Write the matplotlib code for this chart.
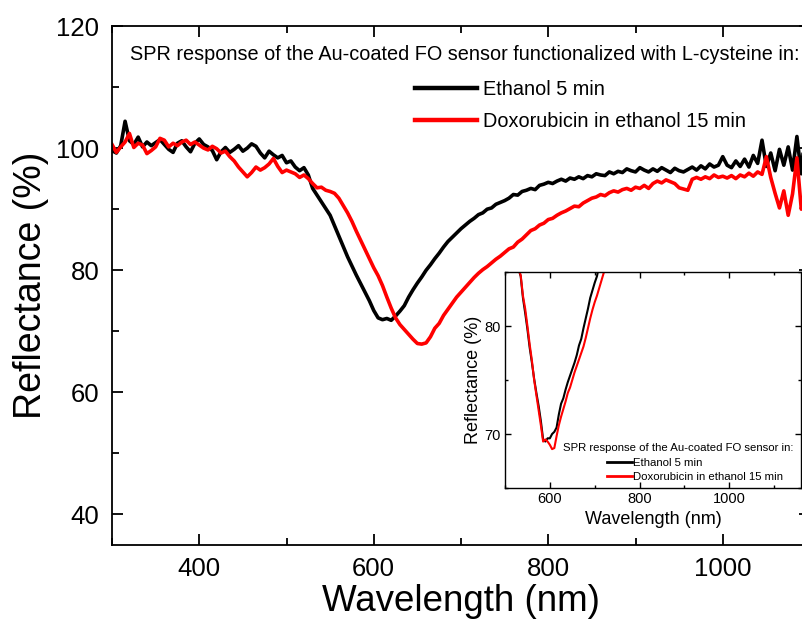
import numpy as np
import matplotlib
matplotlib.use("Agg")
import matplotlib.pyplot as plt
from matplotlib.ticker import MultipleLocator

plt.rcParams['font.family'] = ['Liberation Sans', 'DejaVu Sans']

# ---------------- data ----------------
wl_start, wl_step = 300, 5
ethanol_5min = [
    99.6, 99.2, 100.4, 104.4, 101.2, 100.6, 101.8, 100.2, 101.0, 100.4,
    100.9, 101.4, 100.6, 99.8, 99.3, 100.8, 101.2, 100.2, 99.4, 100.8,
    101.5, 100.6, 100.2, 99.6, 98.1, 99.4, 100.1, 99.3, 99.8, 100.4,
    99.5, 100.0, 100.7, 100.3, 99.2, 98.4, 99.5, 98.9, 98.4, 98.8,
    97.6, 97.9, 96.9, 96.3, 96.8, 95.6, 93.4, 92.3, 91.2, 90.1,
    89.0, 87.3, 85.6, 83.9, 82.2, 80.7, 79.2, 77.8, 76.4, 75.0,
    73.4, 72.2, 71.9, 72.1, 71.8, 72.5, 73.3, 74.2, 75.6, 76.8,
    77.9, 78.9, 80.0, 80.9, 81.9, 82.8, 83.8, 84.7, 85.4, 86.1,
    86.8, 87.4, 88.0, 88.5, 89.1, 89.4, 90.0, 90.2, 90.8, 91.1,
    91.4, 91.8, 92.4, 92.3, 92.9, 93.1, 93.4, 93.2, 93.9, 94.1,
    94.4, 94.2, 94.6, 94.9, 94.6, 95.1, 94.9, 95.3, 95.0, 95.5,
    95.3, 95.8, 95.6, 95.5, 96.1, 95.8, 96.2, 96.0, 96.6, 96.3,
    96.1, 96.8, 96.4, 96.1, 96.6, 96.2, 96.8, 96.4, 96.0, 96.7,
    96.3, 96.1, 96.5, 96.9, 96.4, 97.1, 96.6, 97.4, 96.9, 97.2,
    98.6, 97.2, 96.8, 97.9, 97.0, 98.2, 96.9, 98.8, 97.5, 101.3,
    97.0, 99.2, 96.3, 99.8, 97.2, 100.2, 96.4, 101.9, 95.8, 103.8,
    98.5,
]
doxorubicin_15min = [
    100.6, 99.3, 100.2, 101.0, 102.4, 100.1, 100.8, 100.5, 99.1, 99.6,
    100.2, 101.6, 101.3, 100.2, 100.8, 100.4, 101.0, 101.3, 100.6, 101.0,
    100.5, 100.0, 99.7, 100.3, 99.9, 99.2, 99.5, 98.6, 97.9, 96.9,
    96.1, 95.3, 96.0, 96.9, 96.4, 96.8, 97.4, 98.3, 97.0, 96.0,
    96.4, 96.1, 95.8, 95.2, 95.6, 95.0, 94.2, 93.5, 93.6, 93.1,
    92.9, 92.6, 91.8, 90.6, 89.4, 88.0, 86.4, 84.9, 83.4, 81.9,
    80.4, 79.1, 77.5, 75.6, 73.8, 72.2, 71.1, 70.3, 69.5, 68.7,
    68.0, 67.9, 68.1, 69.1, 70.5, 71.3, 72.6, 73.6, 74.6, 75.6,
    76.4, 77.2, 78.0, 78.8, 79.5, 80.1, 80.6, 81.2, 81.8, 82.3,
    82.9, 83.5, 83.8, 84.6, 85.1, 85.8, 86.5, 86.8, 87.4, 87.7,
    88.3, 88.5, 89.0, 89.4, 89.7, 90.1, 90.5, 90.4, 91.0, 91.4,
    91.8, 92.0, 92.4, 92.2, 92.7, 93.0, 92.8, 93.2, 93.4, 93.1,
    93.6, 93.4, 93.9, 93.4, 94.2, 94.6, 94.3, 94.8, 94.5, 94.2,
    93.5, 93.3, 93.1, 94.9, 95.2, 94.9, 95.3, 95.0, 95.6, 95.2,
    95.4, 95.1, 95.5, 95.0, 95.6, 95.3, 95.9, 95.4, 96.1, 95.7,
    98.6, 95.2, 92.6, 90.2, 93.0, 89.0, 92.5, 98.4, 90.0, 92.8,
    91.5,
]
wavelength_black = np.arange(len(ethanol_5min)) * wl_step + wl_start
wavelength_red = np.arange(len(doxorubicin_15min)) * wl_step + wl_start

# inset (Au-coated FO sensor without functionalization)
inset_wl_black = [525, 530, 535, 540, 545, 550, 555, 560, 565, 570, 575, 580,
                  585, 590, 595, 600, 605, 610, 615, 620, 625, 630, 635, 640,
                  645, 650, 655, 660, 665, 670, 675, 680, 685, 690, 695, 700,
                  705, 710, 715]
inset_black = [86.0, 85.3, 84.6, 82.6, 81.2, 79.7, 78.0, 76.6, 75.1, 73.8,
               72.6, 71.2, 69.5, 69.3, 69.6, 69.6, 70.0, 70.2, 70.6, 71.8,
               72.8, 73.3, 74.1, 74.8, 75.4, 76.0, 76.6, 77.3, 78.2, 78.8,
               79.8, 80.7, 81.6, 82.6, 83.3, 84.0, 84.6, 85.6, 86.3]
inset_wl_red = [525, 530, 535, 540, 545, 550, 555, 560, 565, 570, 575, 580,
                585, 590, 595, 600, 605, 610, 615, 620, 625, 630, 635, 640,
                645, 650, 655, 660, 665, 670, 675, 680, 685, 690, 695, 700,
                705, 710, 715, 720, 725, 730]
inset_red = [86.2, 85.3, 84.7, 82.8, 81.6, 80.0, 78.3, 76.8, 75.0, 73.6,
             72.2, 70.8, 69.3, 69.5, 69.3, 69.0, 68.6, 68.7, 69.8, 70.8,
             71.6, 72.3, 73.0, 73.8, 74.3, 75.0, 75.7, 76.3, 76.9, 77.5,
             78.1, 78.9, 79.8, 80.7, 81.5, 82.2, 82.8, 83.5, 84.2, 84.9,
             85.6, 86.3]

main_title = "SPR response of the Au-coated FO sensor functionalized with L-cysteine in:"
inset_title = "SPR response of the Au-coated FO sensor in:"
labels = ["Ethanol 5 min", "Doxorubicin in ethanol 15 min"]
colors = ["black", "red"]

# ---------------- figure ----------------
W, H = 803, 622
fig = plt.figure(figsize=(W / 100, H / 100), dpi=100)

def px_rect(l, t, r, b):
    return [l / W, 1 - b / H, (r - l) / W, (b - t) / H]

ax = fig.add_axes(px_rect(112, 26, 810, 545))
ax.plot(wavelength_black, ethanol_5min, color=colors[0], lw=2.6, label=labels[0])
ax.plot(wavelength_red, doxorubicin_15min, color=colors[1], lw=2.6, label=labels[1])
ax.set_xlim(300, 1100)
ax.set_ylim(35, 120)
ax.xaxis.set_major_locator(MultipleLocator(200))
ax.xaxis.set_minor_locator(MultipleLocator(100))
ax.yaxis.set_major_locator(MultipleLocator(20))
ax.yaxis.set_minor_locator(MultipleLocator(10))
ax.tick_params(which='both', direction='in', top=True, right=True, width=1.3)
ax.tick_params(which='major', length=8, labelsize=18.5, pad=9)
ax.tick_params(which='minor', length=5)
for s in ax.spines.values():
    s.set_linewidth(1.3)
ax.set_xlabel("Wavelength (nm)", fontsize=26.5, labelpad=1.5)
ax.set_ylabel("Reflectance (%)", fontsize=27, labelpad=5)

ax.text(18 / 698, (545 - 55) / 519, main_title, transform=ax.transAxes,
        fontsize=14.3, ha='left', va='center')
leg = ax.legend(loc='upper left', bbox_to_anchor=((415 - 112) / 698, (545 - 80) / 519),
                frameon=False, fontsize=14.3, handlelength=3.1, handletextpad=0.3,
                labelspacing=0.67, borderpad=0, borderaxespad=0)
for h in leg.legend_handles:
    h.set_linewidth(3.2)

# ---------------- inset ----------------
ins = fig.add_axes(px_rect(505, 272, 801, 488))
ins.set_facecolor('white')
ins.plot(inset_wl_black, inset_black, color=colors[0], lw=1.5, label=labels[0])
ins.plot(inset_wl_red, inset_red, color=colors[1], lw=1.5, label=labels[1])
ins.set_xlim(500, 1160)
ins.set_ylim(65, 85)
ins.xaxis.set_major_locator(MultipleLocator(200))
ins.xaxis.set_minor_locator(MultipleLocator(100))
ins.yaxis.set_major_locator(MultipleLocator(10))
ins.yaxis.set_minor_locator(MultipleLocator(5))
ins.tick_params(which='both', direction='in', top=True, right=True, width=1.0)
ins.tick_params(which='major', length=4, labelsize=10.5, pad=3)
ins.tick_params(which='minor', length=2.5)
for s in ins.spines.values():
    s.set_linewidth(1.0)
ins.set_xlabel("Wavelength (nm)", fontsize=13, labelpad=3.5)
ins.set_ylabel("Reflectance (%)", fontsize=13, labelpad=2)
ins.text(0.975, (488 - 448) / 216, inset_title, transform=ins.transAxes,
         fontsize=8.2, ha='right', va='center')
leg2 = ins.legend(loc='upper left', bbox_to_anchor=((607 - 505) / 296, (488 - 458) / 216),
                  frameon=False, fontsize=8.2, handlelength=2.2, handletextpad=0.1,
                  labelspacing=0.35, borderpad=0, borderaxespad=0)
for h in leg2.legend_handles:
    h.set_linewidth(2.0)

fig.savefig("out.png", dpi=100)
